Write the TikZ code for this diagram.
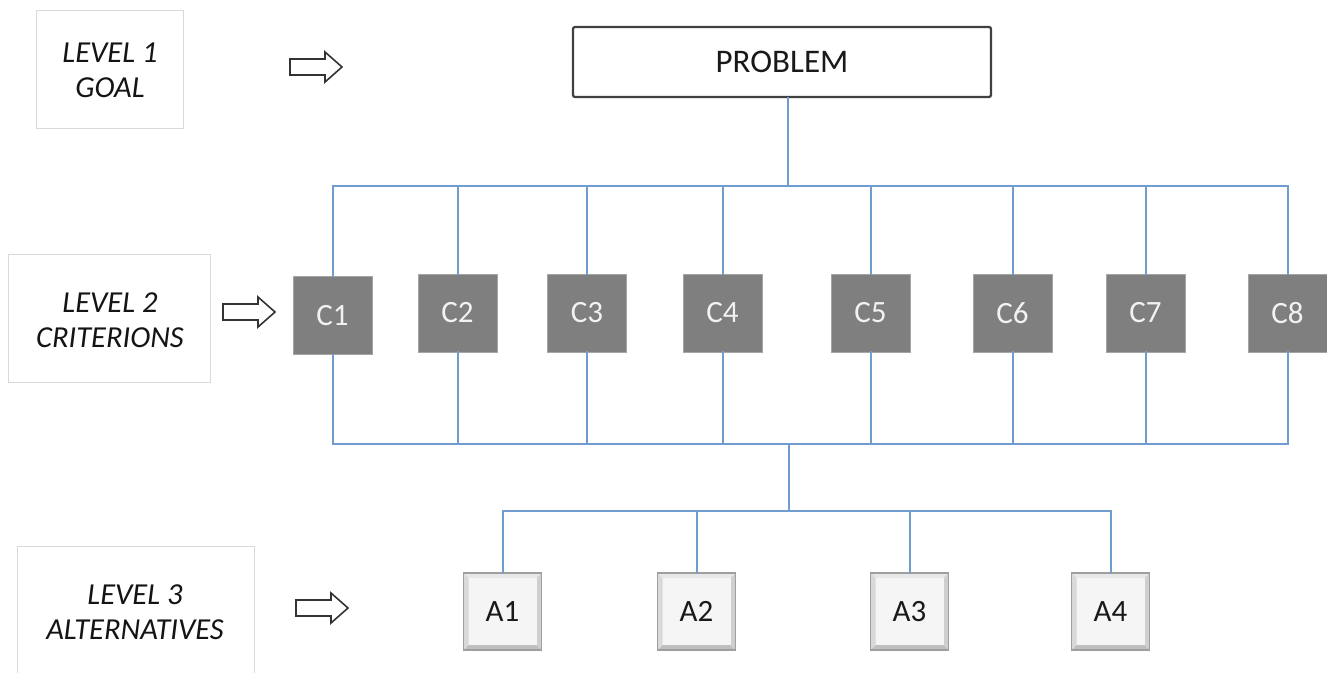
\documentclass[tikz,border=0pt]{standalone}
\usepackage{fontspec}
\setmainfont{Carlito}
\definecolor{linkblue}{RGB}{112,156,208}
\definecolor{critgray}{RGB}{127,127,127}
\definecolor{critfont}{RGB}{242,242,242}
\definecolor{probborder}{RGB}{64,64,64}
\begin{document}
\begin{tikzpicture}[x=1pt,y=-1pt,
  lvlbox/.style={draw=gray!30, line width=1pt},
  lvltext/.style={font=\fontsize{30.5}{35}\selectfont\itshape, align=center, text=black!92, inner sep=0pt},
  probbox/.style={draw=probborder, line width=2.2pt, rounded corners=2pt, fill=white,
    minimum width=418pt, minimum height=70pt, inner sep=0pt,
    font=\fontsize{33}{38}\selectfont, text=black!90},
  crit/.style={fill=critgray, draw=critgray!70!white, line width=0.6pt,
    minimum width=79pt, minimum height=78pt, inner sep=0pt,
    text=critfont, font=\fontsize{31}{36}\selectfont},
  altbox/.style={draw=gray!75, line width=1.6pt, fill=gray!10,
    minimum width=78pt, minimum height=77pt, inner sep=0pt,
    font=\fontsize{31}{36}\selectfont, text=black!90,
    path picture={
      \fill[gray!18] (path picture bounding box.north west) -- (path picture bounding box.north east)
        -- ([shift={(-5pt,-5pt)}]path picture bounding box.north east) -- ([shift={(5pt,-5pt)}]path picture bounding box.north west) -- cycle;
      \fill[gray!50] (path picture bounding box.south west) -- (path picture bounding box.south east)
        -- ([shift={(-5pt,5pt)}]path picture bounding box.south east) -- ([shift={(5pt,5pt)}]path picture bounding box.south west) -- cycle;
      \fill[gray!30] (path picture bounding box.north west) -- (path picture bounding box.south west)
        -- ([shift={(5pt,5pt)}]path picture bounding box.south west) -- ([shift={(5pt,-5pt)}]path picture bounding box.north west) -- cycle;
      \fill[gray!38] (path picture bounding box.north east) -- (path picture bounding box.south east)
        -- ([shift={(-5pt,5pt)}]path picture bounding box.south east) -- ([shift={(-5pt,-5pt)}]path picture bounding box.north east) -- cycle;
      \fill[gray!8] ([shift={(5pt,-5pt)}]path picture bounding box.north west) rectangle ([shift={(-5pt,5pt)}]path picture bounding box.south east);
    }},
  link/.style={draw=linkblue, line width=2pt, line cap=rect},
  blockarrow/.style={draw=black!80, line width=1.6pt, fill=white, line join=miter},
  blockarr/.pic={\draw[blockarrow] (0,-8) -- (35,-8) -- (35,-15) -- (52,0) -- (35,15) -- (35,8) -- (0,8) -- cycle;}
]
\useasboundingbox (0,0) rectangle (1327,673);

% level boxes
\node[lvlbox, minimum width=147pt, minimum height=118pt] (lvl1box) at (109.5,69) {};
\node[lvltext] (lvl1) at (110,70) {LEVEL 1\\GOAL};
\node[lvlbox, minimum width=202pt, minimum height=128pt] (lvl2box) at (109,318) {};
\node[lvltext] (lvl2) at (110,320) {LEVEL 2\\CRITERIONS};
\node[minimum width=236pt, minimum height=126pt, inner sep=0pt] (lvl3box) at (136,610) {};
\draw[lvlbox] (lvl3box.south west) -- (lvl3box.north west) -- (lvl3box.north east) -- (lvl3box.south east);
\node[lvltext] (lvl3) at (135,612.5) {LEVEL 3\\ALTERNATIVES};

% block arrows
\pic at (290,67) {blockarr};
\pic at (223,312) {blockarr};
\pic at (296,608) {blockarr};

% problem
\node[probbox] (P) at (782,62) {PROBLEM};

% criteria
\node[crit] (C1) at (332.5,315.5) {C1};
\node[crit] (C2) at (457.5,313) {C2};
\node[crit] (C3) at (587,313) {C3};
\node[crit] (C4) at (722.5,313) {C4};
\node[crit] (C5) at (870.5,313) {C5};
\node[crit] (C6) at (1012.5,313) {C6};
\node[crit] (C7) at (1145.5,313) {C7};
\node[crit] (C8) at (1287.5,313) {C8};

% alternatives
\node[altbox] (A1) at (502.5,611.5) {A1};
\node[altbox] (A2) at (696.5,611.5) {A2};
\node[altbox] (A3) at (909.5,611.5) {A3};
\node[altbox] (A4) at (1110.5,611.5) {A4};

% connectors
\coordinate (tb) at (788,186);
\coordinate (bb) at (789,444);
\coordinate (ab) at (789,511);
\draw[link] (P.south -| tb) -- (tb);
\draw[link] (C1.north |- tb) -- (C8.north |- tb);
\foreach \c in {C1,C2,C3,C4,C5,C6,C7,C8}{
  \draw[link] (\c.north) -- (\c.north |- tb);
  \draw[link] (\c.south) -- (\c.south |- bb);
}
\draw[link] (C1.south |- bb) -- (C8.south |- bb);
\draw[link] (bb) -- (ab);
\draw[link] (A1.north |- ab) -- (A4.north |- ab);
\foreach \a in {A1,A2,A3,A4}{
  \draw[link] (\a.north |- ab) -- (\a.north);
}
\end{tikzpicture}
\end{document}
